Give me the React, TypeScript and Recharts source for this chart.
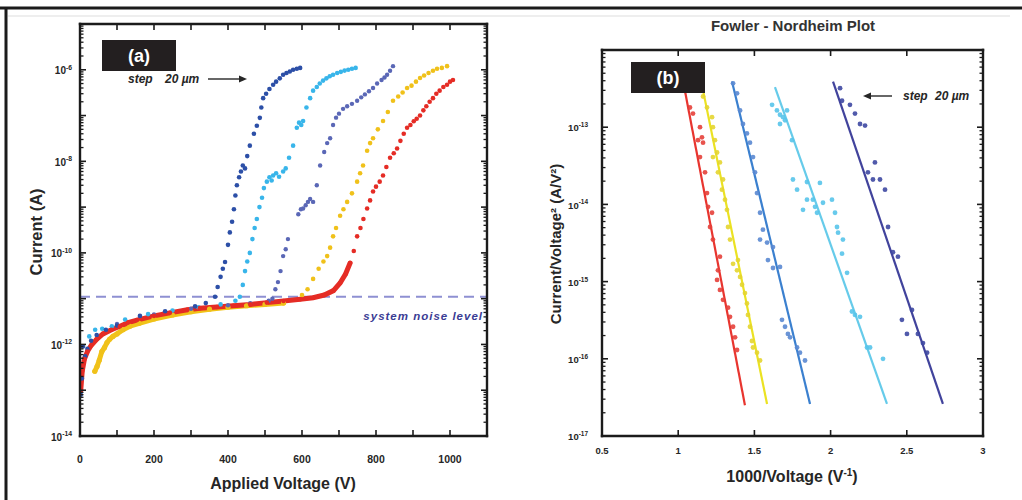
import React from 'react';
import { ComposedChart, Scatter, Line, XAxis, YAxis, ReferenceLine } from 'recharts';

// ---------------- Panel (a): Current vs Applied Voltage ----------------
const aXTicks = [0, 200, 400, 600, 800, 1000];
const aXMarks = [0, 100, 200, 300, 400, 500, 600, 700, 800, 900, 1000, 1100];
const aXDomain = [0, 1100];
const aYTicks = [1e-14, 1e-12, 1e-10, 1e-8, 1e-6];
const aYDecades = [1e-14, 1e-13, 1e-12, 1e-11, 1e-10, 1e-9, 1e-8, 1e-7, 1e-6, 1e-5];
const aYDomain = [1e-14, 1e-5];
const noiseLevel = 1.1e-11;

// [voltage V, current A]
const aRedLow = [
  [2, 1.0e-13], [6, 2.6e-13], [12, 4.8e-13], [20, 7.0e-13], [30, 9.5e-13], [45, 1.3e-12],
  [62, 1.7e-12], [85, 2.1e-12], [108, 2.5e-12], [130, 3.0e-12], [154, 3.4e-12], [200, 4.2e-12],
  [243, 4.9e-12], [290, 5.7e-12], [324, 6.2e-12], [370, 6.6e-12], [414, 7.0e-12], [460, 7.5e-12],
  [505, 8.2e-12], [550, 8.9e-12], [595, 9.7e-12], [630, 1.05e-11], [660, 1.2e-11], [685, 1.5e-11],
  [703, 2.2e-11], [718, 3.5e-11], [730, 6.0e-11],
];
const aRedHigh = [
  [740, 1.1e-10], [749, 2.3e-10], [758, 3.5e-10], [766, 5.5e-10], [776, 9.3e-10], [784, 1.4e-9],
  [792, 2.2e-9], [800, 2.8e-9], [810, 3.6e-9], [819, 4.9e-9], [828, 7.5e-9], [838, 1.2e-8],
  [848, 1.5e-8], [857, 1.9e-8], [866, 2.8e-8], [875, 4.0e-8], [884, 5.4e-8], [893, 6.2e-8],
  [902, 7.5e-8], [910, 8.5e-8], [919, 1.0e-7], [928, 1.3e-7], [936, 1.6e-7], [945, 2.0e-7],
  [954, 2.4e-7], [963, 3.0e-7], [972, 3.5e-7], [982, 4.2e-7], [992, 4.7e-7], [1000, 5.5e-7],
  [1008, 6.0e-7],
];
const aYellowLow = [
  [40, 2.6e-13], [46, 3.3e-13], [52, 4.5e-13], [59, 7.0e-13], [66, 8.5e-13], [73, 1.1e-12],
  [80, 1.3e-12], [89, 1.5e-12], [100, 1.7e-12], [116, 2.1e-12], [135, 2.5e-12], [160, 2.9e-12],
  [200, 3.6e-12], [250, 4.4e-12], [300, 5.2e-12], [350, 5.9e-12], [400, 6.5e-12], [450, 7.0e-12],
  [500, 7.5e-12], [550, 8.0e-12],
];
const aYellowHigh = [
  [600, 1.2e-11], [615, 1.6e-11], [630, 2.7e-11], [645, 4.5e-11], [658, 6.5e-11], [668, 8.5e-11],
  [676, 1.3e-10], [684, 2.3e-10], [692, 3.5e-10], [703, 6.5e-10], [712, 9.0e-10], [722, 1.3e-9],
  [735, 2.0e-9], [749, 3.6e-9], [757, 5.5e-9], [765, 8.1e-9], [776, 1.7e-8], [784, 2.5e-8],
  [792, 3.2e-8], [805, 5.0e-8], [819, 7.6e-8], [832, 1.2e-7], [846, 2.1e-7], [860, 2.6e-7],
  [872, 3.2e-7], [884, 4.0e-7], [896, 4.5e-7], [908, 5.5e-7], [919, 6.6e-7], [930, 7.5e-7],
  [942, 8.5e-7], [954, 9.5e-7], [965, 1.05e-6], [978, 1.1e-6], [992, 1.2e-6],
];
const aDarkBlue = [
  [2, 8.0e-14], [5, 1.8e-13], [8, 9.0e-13], [14, 5.5e-13], [20, 8.0e-13], [30, 1.2e-12],
  [45, 1.6e-12], [70, 2.1e-12], [100, 2.6e-12], [162, 4.2e-12], [230, 5.3e-12], [311, 6.8e-12],
  [340, 8.0e-12],
  [365, 1.1e-11], [372, 1.8e-11], [380, 3.0e-11], [386, 4.5e-11], [392, 6.3e-11], [400, 1.5e-10],
  [405, 2.8e-10], [411, 4.8e-10], [416, 9.0e-10], [420, 1.8e-9], [424, 3.0e-9], [430, 4.5e-9],
  [435, 6.0e-9], [440, 8.1e-9], [446, 7.0e-9], [452, 1.3e-8], [459, 2.2e-8], [470, 4.0e-8],
  [478, 6.0e-8], [486, 8.9e-8], [490, 1.5e-7], [495, 2.4e-7], [503, 3.0e-7], [512, 3.8e-7],
  [522, 4.7e-7], [530, 5.5e-7], [540, 6.5e-7], [549, 7.8e-7], [558, 8.5e-7], [567, 9.2e-7],
  [576, 1.0e-6], [586, 1.05e-6], [595, 1.1e-6],
];
const aCyan = [
  [25, 1.5e-12], [41, 2.1e-12], [60, 2.2e-12], [86, 2.5e-12], [122, 3.5e-12], [184, 4.6e-12],
  [250, 5.5e-12], [320, 6.5e-12], [380, 7.5e-12], [420, 9.0e-12],
  [432, 1.1e-11], [440, 2.0e-11], [446, 4.0e-11], [452, 6.5e-11], [459, 1.0e-10], [466, 2.0e-10],
  [472, 3.5e-10], [478, 5.5e-10], [485, 1.0e-9], [492, 1.6e-9], [497, 2.6e-9], [505, 3.6e-9],
  [512, 4.5e-9], [518, 3.8e-9], [522, 4.9e-9], [530, 5.5e-9], [538, 4.6e-9], [549, 6.0e-9],
  [556, 7.0e-9], [565, 1.2e-8], [576, 2.2e-8], [586, 5.4e-8], [592, 7.0e-8], [598, 6.2e-8],
  [603, 7.6e-8], [612, 1.5e-7], [622, 2.4e-7], [630, 3.5e-7], [640, 4.2e-7], [648, 5.0e-7],
  [657, 5.8e-7], [666, 6.5e-7], [675, 7.2e-7], [684, 7.8e-7], [695, 8.5e-7], [705, 9.0e-7],
  [715, 9.6e-7], [725, 1.0e-6], [735, 1.05e-6], [745, 1.1e-6],
];
const aMidBlue = [
  [100, 2.8e-12], [200, 4.5e-12], [300, 6.0e-12], [400, 7.2e-12], [460, 8.0e-12], [510, 9.0e-12],
  [520, 1.0e-11], [528, 1.6e-11], [535, 2.3e-11], [542, 4.0e-11], [549, 8.5e-11], [556, 1.2e-10],
  [562, 2.0e-10], [590, 7.0e-10], [597, 9.0e-10], [603, 9.3e-10], [610, 1.1e-9], [616, 1.3e-9],
  [622, 1.5e-9], [630, 1.3e-9], [640, 3.0e-9], [649, 8.1e-9], [660, 1.6e-8], [668, 2.5e-8],
  [676, 3.2e-8], [684, 6.2e-8], [692, 9.0e-8], [700, 1.1e-7], [711, 1.4e-7], [722, 1.6e-7],
  [735, 1.8e-7], [749, 2.1e-7], [760, 2.5e-7], [770, 2.9e-7], [781, 3.4e-7], [792, 4.0e-7],
  [803, 5.0e-7], [815, 6.0e-7], [823, 6.8e-7], [830, 7.8e-7], [838, 9.5e-7], [846, 1.2e-6],
];

// ---------------- Panel (b): Fowler-Nordheim plot ----------------
const bXTicks = [0.5, 1, 1.5, 2, 2.5, 3];
const bXDomain = [0.5, 3];
const bYTicks = [1e-17, 1e-16, 1e-15, 1e-14, 1e-13];
const bYDecades = [1e-17, 1e-16, 1e-15, 1e-14, 1e-13, 1e-12];
const bYDomain = [1e-17, 1e-12];

// [1000/V, I/V^2]
const bRed = [
  [1.077, 1.8e-13], [1.097, 1.5e-13], [1.143, 1.0e-13], [1.156, 7.4e-14], [1.130, 6.8e-14],
  [1.163, 6.3e-14], [1.143, 4.1e-14], [1.176, 2.6e-14], [1.189, 1.4e-14], [1.196, 9.3e-15],
  [1.222, 7.8e-15], [1.209, 5.1e-15], [1.228, 3.5e-15], [1.274, 2.1e-15], [1.261, 1.4e-15],
  [1.255, 1.05e-15], [1.274, 7.8e-16], [1.294, 5.8e-16], [1.327, 4.6e-16], [1.340, 3.5e-16],
  [1.360, 2.6e-16], [1.373, 1.9e-16], [1.386, 1.3e-16],
];
const bYellow = [
  [1.163, 2.5e-13], [1.189, 1.8e-13], [1.222, 1.35e-13], [1.228, 1.0e-13], [1.241, 6.8e-14],
  [1.255, 4.7e-14], [1.228, 4.1e-14], [1.274, 3.5e-14], [1.261, 2.6e-14], [1.294, 2.1e-14],
  [1.287, 1.55e-14], [1.307, 1.15e-14], [1.320, 8.5e-15], [1.327, 5.1e-15], [1.340, 3.5e-15],
  [1.360, 1.7e-15], [1.392, 1.9e-15], [1.386, 1.4e-15], [1.406, 1.15e-15], [1.419, 9.1e-16],
  [1.438, 7.1e-16], [1.451, 5.2e-16], [1.458, 3.7e-16], [1.471, 2.6e-16], [1.484, 1.7e-16],
  [1.491, 1.4e-16], [1.517, 1.2e-16], [1.537, 9.5e-17],
];
const bBlue = [
  [1.360, 3.7e-13], [1.386, 2.75e-13], [1.406, 1.65e-13], [1.425, 1.1e-13], [1.451, 8.3e-14],
  [1.471, 6.3e-14], [1.491, 4.1e-14], [1.504, 2.6e-14], [1.517, 1.4e-14], [1.537, 7.8e-15],
  [1.556, 4.7e-15], [1.537, 3.5e-15], [1.583, 3.2e-15], [1.622, 2.8e-15], [1.589, 1.9e-15],
  [1.622, 1.5e-15], [1.668, 1.55e-15], [1.681, 3.2e-16], [1.701, 2.6e-16], [1.720, 2.1e-16],
  [1.734, 1.9e-16], [1.780, 1.4e-16], [1.799, 1.2e-16], [1.832, 9.5e-17],
];
const bCyan = [
  [1.616, 1.95e-13], [1.648, 1.65e-13], [1.668, 1.45e-13], [1.688, 1.35e-13], [1.714, 1.65e-13],
  [1.701, 1.23e-13], [1.668, 1.1e-13], [1.747, 6.8e-14], [1.753, 2.1e-14], [1.780, 1.55e-14],
  [1.845, 1.95e-14], [1.845, 1.15e-14], [1.884, 1.15e-14], [1.930, 1.9e-14], [1.898, 9.3e-15],
  [1.950, 1.05e-14], [2.009, 1.15e-14], [1.819, 8.5e-15], [1.911, 7.8e-15], [2.029, 7.8e-15],
  [2.042, 5.1e-15], [2.049, 4.3e-15], [2.081, 3.5e-15], [2.075, 2.3e-15], [2.108, 1.3e-15],
  [2.140, 4.1e-16], [2.160, 3.7e-16], [2.193, 3.5e-16], [2.239, 1.4e-16], [2.259, 1.4e-16],
  [2.344, 1.0e-16],
];
const bPurple = [
  [2.062, 3.2e-13], [2.075, 2.2e-13], [2.127, 1.95e-13], [2.160, 1.5e-13], [2.193, 1.1e-13],
  [2.226, 1.05e-13], [2.291, 3.5e-14], [2.245, 2.6e-14], [2.278, 2.1e-14], [2.324, 2.1e-14],
  [2.357, 1.55e-14], [2.377, 5.1e-15], [2.409, 2.4e-15], [2.442, 2.1e-15], [2.468, 3.2e-16],
  [2.534, 4.3e-16], [2.573, 2.1e-16], [2.606, 1.6e-16], [2.633, 1.2e-16], [2.501, 2.1e-16],
];
const bRedFit = [[1.045, 2.9e-13], [1.438, 2.5e-17]];
const bYellowFit = [[1.163, 3.0e-13], [1.583, 2.6e-17]];
const bBlueFit = [[1.353, 3.9e-13], [1.865, 2.6e-17]];
const bCyanFit = [[1.635, 3.3e-13], [2.37, 2.6e-17]];
const bPurpleFit = [[2.016, 3.9e-13], [2.737, 2.6e-17]];

// ---------------- helpers ----------------
const FONT = '"Liberation Sans", Arial, Helvetica, sans-serif';
const INK = '#262626';
const FRAME = '#1b1b1b';
type P = { x: number; y: number };
const pts = (arr: number[][]): P[] => arr.map(([x, y]) => ({ x, y }));
const minorTicks = (decades: number[]) => {
  const out: number[] = [];
  decades.slice(0, -1).forEach((d) => {
    for (let m = 2; m <= 9; m++) out.push(m * d);
  });
  return out;
};
const aYMinor = minorTicks(aYDecades);
const bYMinor = minorTicks(bYDecades);

const dot = (color: string, r: number, op = 1) => (props: any) =>
  props.cx == null ? <g /> : <circle cx={props.cx} cy={props.cy} r={r} fill={color} fillOpacity={op} />;

const NumTick = (props: any) => {
  const { x, y, payload, fs } = props;
  return (
    <text x={x} y={y} dy={fs * 0.8} textAnchor="middle" fontFamily={FONT} fontWeight="bold" fontSize={fs} fill={INK} stroke="none">
      {String(payload.value)}
    </text>
  );
};
const PowTick = (props: any) => {
  const { x, y, payload, fs } = props;
  const exp = Math.round(Math.log10(payload.value));
  return (
    <text x={x} y={y} dy={fs * 0.45} textAnchor="end" fontFamily={FONT} fontWeight="bold" fontSize={fs} fill={INK} stroke="none">
      10<tspan dy={-fs * 0.45} fontSize={fs * 0.68}>{String(exp)}</tspan>
    </text>
  );
};
const NoShape = () => <g />;

// Plot rectangles of the two panels (match the chart margins below)
const boxA = { left: 80, right: 487, top: 24, bottom: 436 };
const boxB = { left: 602, right: 983, top: 50, bottom: 436 };

type FrameProps = {
  width: number; height: number; margin: any;
  xDomain: number[]; xTicks: number[]; yDomain: number[]; yTicks: number[];
  xfs: number; yfs: number; xMargin: number; yMargin: number; yWidth: number;
};

// Tick labels of a panel (drawn on top of the data layer).
function Labels(f: FrameProps) {
  const anchor = [{ x: f.xDomain[0], y: f.yDomain[0] }];
  return (
    <ComposedChart width={f.width} height={f.height} margin={f.margin}>
      <XAxis xAxisId="x" dataKey="x" type="number" domain={f.xDomain} ticks={f.xTicks} allowDataOverflow
        stroke="#000" tick={<NumTick fs={f.xfs} />} tickLine={false} tickSize={6} tickMargin={f.xMargin} axisLine={false} height={30} interval={0} />
      <YAxis yAxisId="y" dataKey="y" type="number" scale="log" domain={f.yDomain} ticks={f.yTicks} allowDataOverflow
        stroke="#000" tick={<PowTick fs={f.yfs} />} tickLine={false} tickSize={6} tickMargin={f.yMargin} axisLine={false} width={f.yWidth} interval={0} />
      <Scatter xAxisId="x" yAxisId="y" data={anchor} shape={NoShape} isAnimationActive={false} />
    </ComposedChart>
  );
}

function DataA() {
  return (
    <ComposedChart width={500} height={500} margin={{ top: 24, right: 13, bottom: 64, left: 80 }}>
      <XAxis xAxisId="x" dataKey="x" type="number" domain={aXDomain} allowDataOverflow hide />
      <YAxis yAxisId="y" dataKey="y" type="number" scale="log" domain={aYDomain} allowDataOverflow hide />
      <ReferenceLine xAxisId="x" yAxisId="y" y={noiseLevel} stroke="#8e90d2" strokeWidth={2.2} strokeDasharray="10 6" ifOverflow="visible" />
      <Line xAxisId="x" yAxisId="y" data={pts(aYellowLow)} dataKey="y" stroke="#f1c318" strokeWidth={5} dot={false} activeDot={false} isAnimationActive={false} strokeLinecap="round" />
      <Scatter xAxisId="x" yAxisId="y" data={pts(aYellowHigh)} shape={dot('#f0c11a', 2.3)} isAnimationActive={false} />
      <Scatter xAxisId="x" yAxisId="y" data={pts(aYellowLow)} shape={dot('#f0c11a', 2.6)} isAnimationActive={false} />
      <Scatter xAxisId="x" yAxisId="y" data={pts(aMidBlue)} shape={dot('#5a67b6', 2.2)} isAnimationActive={false} />
      <Scatter xAxisId="x" yAxisId="y" data={pts(aCyan)} shape={dot('#38b5ea', 2.3)} isAnimationActive={false} />
      <Scatter xAxisId="x" yAxisId="y" data={pts(aDarkBlue)} shape={dot('#2c4fa7', 2.3)} isAnimationActive={false} />
      <Line xAxisId="x" yAxisId="y" data={pts(aRedLow)} dataKey="y" stroke="#e52c25" strokeWidth={5} dot={false} activeDot={false} isAnimationActive={false} strokeLinecap="round" />
      <Scatter xAxisId="x" yAxisId="y" data={pts([...aRedLow, ...aRedHigh])} shape={dot('#e52c25', 2.3)} isAnimationActive={false} />
    </ComposedChart>
  );
}

function DataB() {
  const fit = (data: number[][], color: string) => (
    <Line xAxisId="x" yAxisId="y" data={pts(data)} dataKey="y" stroke={color} strokeWidth={2.2} dot={false} activeDot={false} isAnimationActive={false} />
  );
  return (
    <ComposedChart width={490} height={500} margin={{ top: 50, right: 17, bottom: 64, left: 92 }}>
      <XAxis xAxisId="x" dataKey="x" type="number" domain={bXDomain} allowDataOverflow hide />
      <YAxis yAxisId="y" dataKey="y" type="number" scale="log" domain={bYDomain} allowDataOverflow hide />
      {fit(bRedFit, '#e8352f')}
      {fit(bYellowFit, '#ebe222')}
      {fit(bBlueFit, '#3b80cf')}
      {fit(bCyanFit, '#66cbea')}
      {fit(bPurpleFit, '#41439c')}
      <Scatter xAxisId="x" yAxisId="y" data={pts(bRed)} shape={dot('#e6403a', 2.4, 0.9)} isAnimationActive={false} />
      <Scatter xAxisId="x" yAxisId="y" data={pts(bYellow)} shape={dot('#e4d530', 2.4, 0.9)} isAnimationActive={false} />
      <Scatter xAxisId="x" yAxisId="y" data={pts(bBlue)} shape={dot('#5a88d2', 2.4, 0.9)} isAnimationActive={false} />
      <Scatter xAxisId="x" yAxisId="y" data={pts(bCyan)} shape={dot('#58c4ea', 2.4, 0.9)} isAnimationActive={false} />
      <Scatter xAxisId="x" yAxisId="y" data={pts(bPurple)} shape={dot('#3e48a2', 2.4, 0.9)} isAnimationActive={false} />
    </ComposedChart>
  );
}

// Box frame with inward ticks on all four sides (axis decoration of a panel)
function BoxFrame({ box, xDomain, xMarks, yDomain, yMajor, yMinor }: any) {
  const sx = (v: number) => box.left + ((v - xDomain[0]) / (xDomain[1] - xDomain[0])) * (box.right - box.left);
  const ly0 = Math.log10(yDomain[0]);
  const ly1 = Math.log10(yDomain[1]);
  const sy = (v: number) => box.bottom - ((Math.log10(v) - ly0) / (ly1 - ly0)) * (box.bottom - box.top);
  return (
    <g>
      {xMarks.map((v: number) => (
        <g key={'x' + v}>
          <line x1={sx(v)} y1={box.bottom} x2={sx(v)} y2={box.bottom - 6} stroke={FRAME} strokeWidth={1.6} />
          <line x1={sx(v)} y1={box.top} x2={sx(v)} y2={box.top + 6} stroke={FRAME} strokeWidth={1.6} />
        </g>
      ))}
      {yMajor.map((v: number) => (
        <g key={'M' + v}>
          <line x1={box.left} y1={sy(v)} x2={box.left + 6} y2={sy(v)} stroke={FRAME} strokeWidth={1.6} />
          <line x1={box.right} y1={sy(v)} x2={box.right - 6} y2={sy(v)} stroke={FRAME} strokeWidth={1.6} />
        </g>
      ))}
      {yMinor.map((v: number) => (
        <g key={'m' + v}>
          <line x1={box.left} y1={sy(v)} x2={box.left + 3.5} y2={sy(v)} stroke={FRAME} strokeWidth={1.3} />
          <line x1={box.right} y1={sy(v)} x2={box.right - 3.5} y2={sy(v)} stroke={FRAME} strokeWidth={1.3} />
        </g>
      ))}
      <line x1={box.left} y1={box.top} x2={box.right} y2={box.top} stroke={FRAME} strokeWidth={2.4} strokeLinecap="square" />
      <line x1={box.left} y1={box.bottom} x2={box.right} y2={box.bottom} stroke={FRAME} strokeWidth={2.4} strokeLinecap="square" />
      <line x1={box.left} y1={box.top} x2={box.left} y2={box.bottom} stroke={FRAME} strokeWidth={2.4} strokeLinecap="square" />
      <line x1={box.right} y1={box.top} x2={box.right} y2={box.bottom} stroke={FRAME} strokeWidth={2.4} strokeLinecap="square" />
    </g>
  );
}

function Overlay() {
  const bold = { fontFamily: FONT, fontWeight: 'bold' as const, fill: INK };
  return (
    <svg width={1022} height={500} style={{ position: 'absolute', left: 0, top: 0, pointerEvents: 'none' }}>
      <line x1={0} y1={8} x2={1022} y2={8} stroke={FRAME} strokeWidth={3} />
      <line x1={8} y1={16} x2={1010} y2={16} stroke="#e8e8e8" strokeWidth={1.5} />
      <line x1={6} y1={7} x2={6} y2={500} stroke={FRAME} strokeWidth={3} />

      <BoxFrame box={boxA} xDomain={aXDomain} xMarks={aXMarks} yDomain={aYDomain} yMajor={aYDecades} yMinor={aYMinor} />
      <BoxFrame box={boxB} xDomain={bXDomain} xMarks={bXTicks} yDomain={bYDomain} yMajor={bYDecades} yMinor={bYMinor} />

      <rect x={102} y={40} width={74} height={31} fill="#231f20" />
      <text x={139} y={62} textAnchor="middle" fontFamily={FONT} fontWeight="bold" fontSize={18} fill="#fff">(a)</text>
      <rect x={631} y={62} width={74} height={31} fill="#231f20" />
      <text x={668} y={84} textAnchor="middle" fontFamily={FONT} fontWeight="bold" fontSize={18} fill="#fff">(b)</text>

      <text x={128} y={83} {...bold} fontStyle="italic" fontSize={12}>step</text>
      <text x={165} y={83} {...bold} fontStyle="italic" fontSize={12}>20 µm</text>
      <line x1={208} y1={79} x2={240} y2={79} stroke={INK} strokeWidth={1.4} />
      <polygon points="239,75.5 247,79 239,82.5" fill={INK} />

      <text x={903} y={100} {...bold} fontStyle="italic" fontSize={12}>step</text>
      <text x={935} y={100} {...bold} fontStyle="italic" fontSize={12}>20 µm</text>
      <line x1={870} y1={96} x2={892} y2={96} stroke={INK} strokeWidth={1.4} />
      <polygon points="871,92.5 863,96 871,99.5" fill={INK} />

      <text x={483} y={320} textAnchor="end" fontFamily={FONT} fontWeight="bold" fontStyle="italic" fontSize={11.5} letterSpacing={1} fill="#3a3c94">system noise level</text>

      <text x={793} y={31} textAnchor="middle" {...bold} fontSize={15} fill="#333">Fowler - Nordheim Plot</text>

      <text transform="translate(42,232) rotate(-90)" textAnchor="middle" {...bold} fontSize={16.5}>Current (A)</text>
      <text x={283} y={489} textAnchor="middle" {...bold} fontSize={16}>Applied Voltage (V)</text>

      <text transform="translate(561,244) rotate(-90)" textAnchor="middle" {...bold} fontSize={15}>Current/Voltage² (A/V²)</text>
      <text x={792} y={482} textAnchor="middle" {...bold} fontSize={16}>
        1000/Voltage (V<tspan dy={-6} fontSize={10}>-1</tspan><tspan dy={6}>)</tspan>
      </text>
    </svg>
  );
}

const layer: React.CSSProperties = { position: 'absolute', top: 0 };

export default function App() {
  return (
    <div style={{ position: 'fixed', left: 0, top: 0, width: 1022, height: 500, background: '#fff', overflow: 'hidden' }}>
      <div style={{ ...layer, left: 0 }}><DataA /></div>
      <div style={{ ...layer, left: 0 }}>
        <Labels width={500} height={500} margin={{ top: 24, right: 13, bottom: 34, left: 40 }}
          xDomain={aXDomain} xTicks={aXTicks} yDomain={aYDomain} yTicks={aYTicks}
          xfs={10.5} yfs={10} xMargin={13} yMargin={2} yWidth={40} />
      </div>
      <div style={{ ...layer, left: 510 }}><DataB /></div>
      <div style={{ ...layer, left: 510 }}>
        <Labels width={490} height={500} margin={{ top: 50, right: 17, bottom: 34, left: 42 }}
          xDomain={bXDomain} xTicks={bXTicks} yDomain={bYDomain} yTicks={bYTicks}
          xfs={9.5} yfs={9.5} xMargin={4} yMargin={8} yWidth={50} />
      </div>
      <Overlay />
    </div>
  );
}
